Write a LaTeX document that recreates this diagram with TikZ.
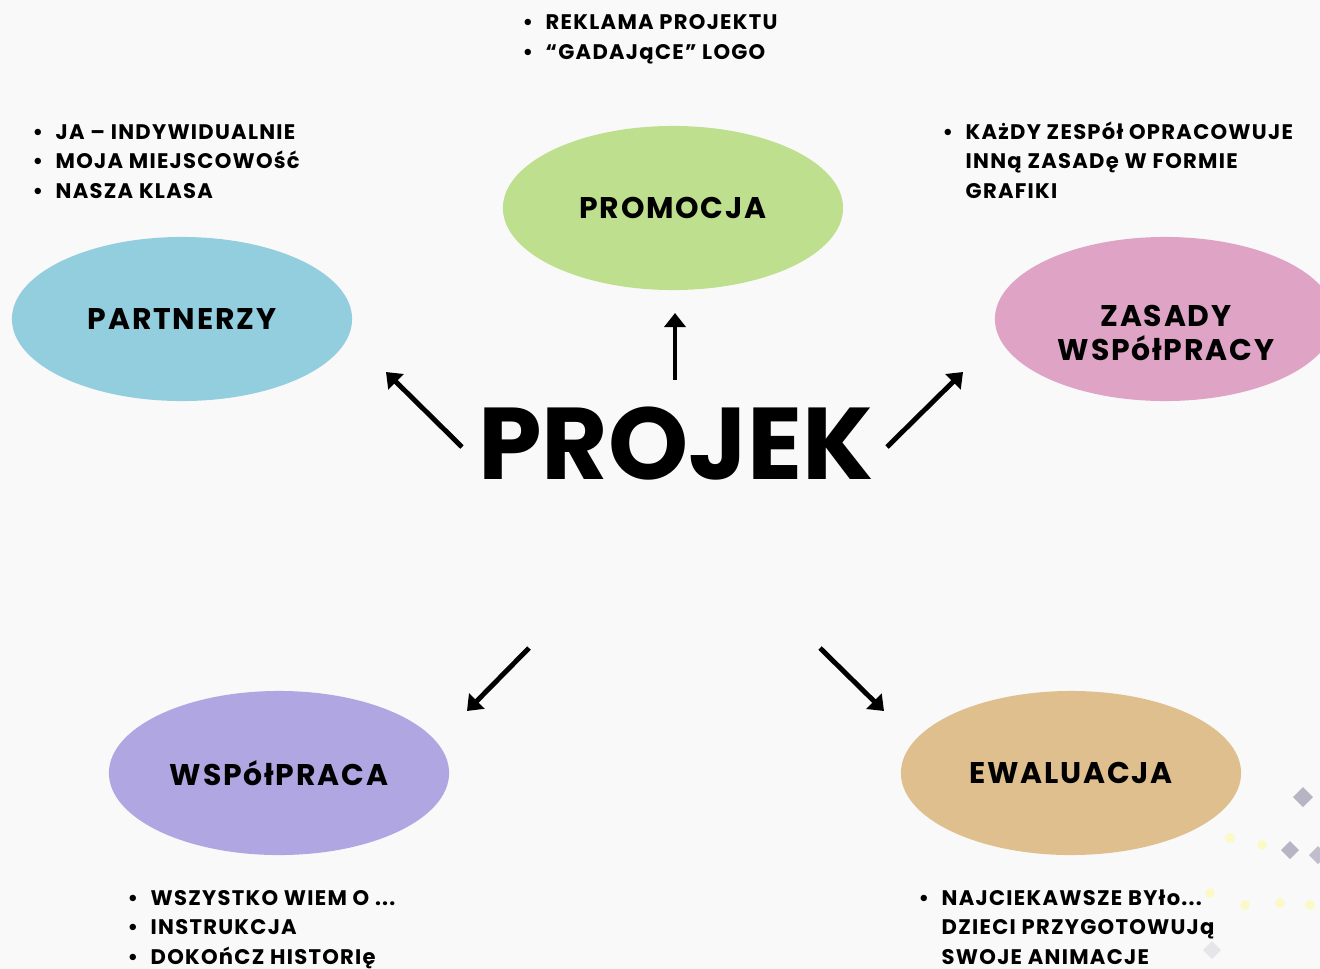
\documentclass[tikz,border=0pt]{standalone}
\usepackage{fontspec}
\setmainfont{Poppins}
\newfontfamily\hand[LetterSpace=6]{Poppins}
\newfontfamily\duzy{Poppins}
\usepackage{tikz}
\usetikzlibrary{shapes,shapes.geometric}
\usetikzlibrary{arrows.meta}
\definecolor{tlo}{HTML}{F9F9F9}
\definecolor{zielony}{HTML}{BEDF8D}
\definecolor{niebieski}{HTML}{93CEDF}
\definecolor{rozowy}{HTML}{DFA4C5}
\definecolor{fioletowy}{HTML}{AFA6E2}
\definecolor{piaskowy}{HTML}{DFBF8E}
\definecolor{romb}{HTML}{9B98AE}
\newcommand{\pkt}{\makebox[0.23cm][l]{\textbullet}}
\newcommand{\wci}{\hspace*{0.23cm}}

\begin{document}
\begin{tikzpicture}[x=0.01cm,y=-0.01cm,
	blob/.style={ellipse,minimum width=3.4cm,minimum height=1.64cm,inner sep=0pt,align=center,
		font=\hand\bfseries\fontsize{8.5}{9.8}\selectfont},
	lista/.style={anchor=base west,inner sep=0pt,align=left,
		font=\hand\bfseries\fontsize{6}{8.25}\selectfont},
	strz/.style={line width=1.4pt,-{Triangle[length=4pt,width=6pt]}}]
			\useasboundingbox (0,0) rectangle (1320,969);
			\clip (0,0) rectangle (1320,969);
			\fill[tlo] (0,0) rectangle (1320,969);
			% tlo w rogu
			\fill[romb,opacity=.7] (1303,787) -- (1313,797) -- (1303,807) -- (1293,797) -- cycle;
			\fill[romb,opacity=.7] (1290,841) -- (1299,850) -- (1290,859) -- (1281,850) -- cycle;
			\fill[romb,opacity=.6] (1318,846) -- (1327,855) -- (1318,864) -- (1309,855) -- cycle;
			\fill[romb,opacity=.2] (1212,941) -- (1221,950) -- (1212,959) -- (1203,950) -- cycle;
			\foreach \x/\y in {1230/838,1262/845,1210/893,1245/905,1280/903,1310/905}
				\fill[yellow!40,opacity=.5] (\x,\y) circle (5);
			% elipsy
			\node[blob,fill=zielony] (promocja) at (673,208) {PROMOCJA};
			\node[blob,fill=niebieski] (partnerzy) at (182,319) {PARTNERZY};
			\node[blob,fill=rozowy] (zasady) at (1165,319) {};
			\node[blob,minimum size=0pt] (zasadyt) at (1166,333) {ZASADY\\WSPółPRACY};
			\node[blob,fill=fioletowy] (wspolpraca) at (279,773) {WSPółPRACA};
			\node[blob,fill=piaskowy] (ewaluacja) at (1071,773) {EWALUACJA};
			% srodek
			\node[inner sep=0pt,font=\duzy\bfseries\fontsize{29}{29}\selectfont] (projek) at (676,444) {PROJEK};
			% listy (base = ostatni wiersz)
			\node[lista] (l1) at (522,59) {\pkt REKLAMA PROJEKTU\\\pkt “GADAJąCE” LOGO};
			\node[lista] (l2) at (32,198) {\pkt JA – INDYWIDUALNIE\\\pkt MOJA MIEJSCOWOść\\\pkt NASZA KLASA};
			\node[lista] (l3) at (942,198) {\pkt KAżDY ZESPół OPRACOWUJE\\\wci INNą ZASADę W FORMIE\\\wci GRAFIKI};
			\node[lista] (l4) at (127,964) {\pkt WSZYSTKO WIEM O ...\\\pkt INSTRUKCJA\\\pkt DOKOńCZ HISTORIę};
			\node[lista] (l5) at (918,964) {\pkt NAJCIEKAWSZE BYło...\\\wci DZIECI PRZYGOTOWUJą\\\wci SWOJE ANIMACJE};
			% strzalki
			\coordinate (g0) at (675,380); \coordinate (g1) at (675,313);
			\coordinate (lg0) at (462,447); \coordinate (lg1) at (386,372);
			\coordinate (pg0) at (887,447); \coordinate (pg1) at (963,372);
			\coordinate (ld0) at (529,648); \coordinate (ld1) at (467,711);
			\coordinate (pd0) at (820,648); \coordinate (pd1) at (884,711);
			\draw[strz] (g0) -- (g1);
			\draw[strz] (lg0) -- (lg1);
			\draw[strz] (pg0) -- (pg1);
			\draw[strz] (ld0) -- (ld1);
			\draw[strz] (pd0) -- (pd1);
		\end{tikzpicture}
\end{document}
